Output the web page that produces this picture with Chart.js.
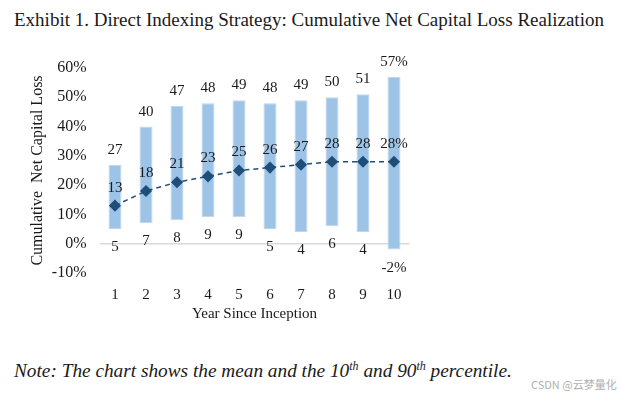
<!DOCTYPE html>
<html>
<head>
<meta charset="utf-8">
<script src="https://cdn.jsdelivr.net/npm/chart.js@4.4.1/dist/chart.umd.min.js"></script>
<style>
  body { margin: 0; background: #fff; }
  #page { position: relative; width: 621px; height: 396px; overflow: hidden; font-family: "Liberation Serif", serif; color: #1a1a1a; }
  #title { position: absolute; left: 14px; top: 9px; font-size: 19px; white-space: nowrap; }
  #note { position: absolute; left: 14px; top: 360px; font-size: 19.3px; font-style: italic; white-space: nowrap; }
  #note sup { font-size: 12px; line-height: 0; }
  #mark { position: absolute; left: 531px; top: 376px; font-size: 11px; color: #b0b0b0; font-family: "Noto Sans CJK SC", sans-serif; white-space: nowrap; }
  #box { position: absolute; left: 0; top: 40px; width: 440px; height: 290px; }
</style>
</head>
<body>
<div id="page">
  <div id="title">Exhibit 1. Direct Indexing Strategy: Cumulative Net Capital Loss Realization</div>
  <div id="box"><canvas id="chart-1"></canvas></div>
  <div id="note">Note: The chart shows the mean and the 10<sup>th</sup> and 90<sup>th</sup> percentile.</div>
  <div id="mark">CSDN @云梦量化</div>
</div>
<script>
// donnees
const years = ["1", "2", "3", "4", "5", "6", "7", "8", "9", "10"];
const p10 = [5, 7, 8, 9, 9, 5, 4, 6, 4, -2];
const p90 = [27, 40, 47, 48, 49, 48, 49, 50, 51, 57];
const meanVals = [13, 18, 21, 23, 25, 26, 27, 28, 28, 28];
const yTicks = [-10, 0, 10, 20, 30, 40, 50, 60];

const serif = "Liberation Serif";

/**
 * Plugin qui ecrit les valeurs au-dessus / en dessous des barres et des points
 */
const labelPlugin = {
    id: "barLabels",
    afterDatasetsDraw(chart) {
        const ctx = chart.ctx;
        const bars = chart.getDatasetMeta(1).data;
        const pts = chart.getDatasetMeta(0).data;
        ctx.save();
        ctx.font = "15px '" + serif + "'";
        ctx.fillStyle = "#1a1a1a";
        ctx.textAlign = "center";
        ctx.textBaseline = "middle";
        bars.forEach(function(bar, i) {
            const suffix = i === years.length - 1 ? "%" : "";
            ctx.fillText(p90[i] + suffix, bar.x, Math.min(bar.y, bar.base) - 15);
            ctx.fillText(p10[i] + suffix, bar.x, Math.max(bar.y, bar.base) + 18);
            ctx.fillText(meanVals[i] + suffix, pts[i].x, pts[i].y - 18);
        });
        ctx.restore();
    }
};

const ranges = p10.map(function(v, i) { return [v, p90[i]]; });

const dataChart = {
    labels: years,
    datasets: [{
        type: "line",
        label: "Mean",
        data: meanVals,
        order: 0,
        borderColor: "#1F4E79",
        borderWidth: 1.5,
        borderDash: [5, 4],
        pointStyle: "rectRot",
        pointRadius: 5,
        pointBackgroundColor: "#1F4E79",
        pointBorderColor: "#1F4E79",
        tension: 0
    }, {
        type: "bar",
        label: "10th-90th",
        data: ranges,
        order: 1,
        backgroundColor: "#9DC3E6",
        borderColor: "#BDD7EE",
        borderWidth: 1,
        borderSkipped: false,
        barPercentage: 0.42,
        categoryPercentage: 1
    }]
};

const configChart = {
    type: "bar",
    data: dataChart,
    plugins: [labelPlugin],
    options: {
        responsive: true,
        maintainAspectRatio: false,
        animation: false,
        layout: { padding: { top: 28, right: 30.5, left: 0, bottom: 0 } },
        plugins: { legend: { display: false }, tooltip: { enabled: false } },
        scales: {
            x: {
                grid: { display: false },
                border: { display: false },
                ticks: { color: "#1a1a1a", padding: 5, font: { family: serif, size: 15 } },
                title: { display: true, text: "Year Since Inception", color: "#1a1a1a", padding: { top: 0, bottom: 7 }, font: { family: serif, size: 15 } },
                afterFit: function(s) { s.height = 57; }
            },
            y: {
                min: -10,
                max: 60,
                afterBuildTicks: function(s) { s.ticks = yTicks.map(function(v) { return { value: v }; }); },
                grid: {
                    color: function(c) { return c.tick && c.tick.value === 0 ? "#d9d9d9" : "rgba(0,0,0,0)"; },
                    lineWidth: 1.5,
                    drawTicks: false
                },
                border: { display: false },
                ticks: {
                    color: "#1a1a1a",
                    padding: 13,
                    font: { family: serif, size: 16 },
                    callback: function(v) { return v + "%"; }
                },
                title: { display: true, text: "Cumulative  Net Capital Loss", color: "#1a1a1a", padding: { top: 28, bottom: 0 }, font: { family: serif, size: 16 } },
                afterFit: function(s) { s.width = 99.5; }
            }
        }
    }
};

const chart = new Chart(document.getElementById("chart-1"), configChart);
</script>
</body>
</html>
